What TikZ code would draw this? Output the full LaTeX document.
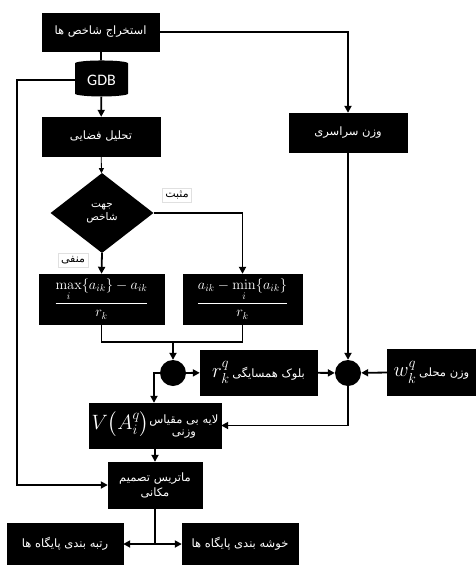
\documentclass[tikz,border=0pt]{standalone}
\usepackage{amsmath}
\usepackage[no-math]{fontspec}
\usepackage{tikz}
\usetikzlibrary{shapes.geometric, arrows.meta, positioning, calc}
\setmainfont{Carlito}
\newfontfamily\fafont[Script=Arabic]{DejaVu Sans}
\TeXXeTstate=1
\newcommand{\fa}[1]{{\fafont\beginR #1\endR}}

\begin{document}
\begin{tikzpicture}[
    x=1pt, y=-1pt,
    box/.style={draw, fill=black, text=white, minimum width=#1, minimum height=39pt, inner sep=2pt, align=center, font=\fontsize{11.5}{15}\selectfont},
    box/.default=117pt,
    dot/.style={circle, fill=black, minimum size=26pt, inner sep=0pt},
    tag/.style={draw=black!12, fill=white, inner sep=3pt, font=\fontsize{11}{12}\selectfont},
    arrow/.style={-{Triangle[length=7pt, width=7pt]}, line width=1.8pt},
    link/.style={line width=1.8pt}
]
    \useasboundingbox (0,0) rectangle (476,565);

    \node[box, minimum height=38pt] (extract) at (100.5,32) {\fa{استخراج شاخص ها}};
    \node[cylinder, shape border rotate=90, aspect=0.2, fill=black, text=white, minimum width=53pt, minimum height=36pt, inner sep=0pt, font=\fontsize{16}{16}\selectfont] (gdb) at (101.5,80) {GDB};
    \node[box=118pt] (spatial) at (101,136.5) {\fa{تحلیل فضایی}};
    \node[diamond, fill=black, text=white, minimum width=103pt, minimum height=80pt, inner sep=0pt, align=center, font=\fontsize{10.5}{13}\selectfont] (dir) at (102,213) {\fa{جهت}\\\fa{شاخص}};
    \node[box=125pt, minimum height=50pt, inner sep=0pt, font=\Large] (neg) at (101.5,299) {$\dfrac{\max\limits_{\lower1.5pt\hbox{$\scriptstyle i$}}\{a_{ik}\}-a_{ik}}{r_k}$};
    \node[box=119pt, minimum height=50pt, inner sep=0pt, font=\Large] (pos) at (242.5,299) {$\dfrac{a_{ik}-\min\limits_{\lower1.5pt\hbox{$\scriptstyle i$}}\{a_{ik}\}}{r_k}$};
    \node[tag] (postag) at (177,195) {\fa{مثبت}};
    \node[tag] (negtag) at (73,260) {\fa{منفی}};

    \node[box=118pt] (global) at (348,132.5) {\fa{وزن سراسری}};

    \node[dot] (sum1) at (173,373) {};
    \node[box, minimum height=45pt] (neigh) at (258.5,372.5) {{\huge$r_k^q$}\ \fa{بلوک همسایگی}};
    \node[dot] (sum2) at (348,373) {};
    \node[box=89pt, minimum height=46pt] (local) at (431.5,372) {{\huge$w_k^q$}\ \fa{وزن محلی}};

    \node[box=132pt, minimum height=45pt, inner sep=0pt] (layer) at (155,425.5) {{\huge$V\big(A_i^q\big)$}\begin{tabular}{@{}c@{}}\fa{لایه بی مقیاس}\\[-3pt]\fa{وزنی}\end{tabular}};
    \node[box=94pt, minimum height=46pt] (matrix) at (155,485) {\fa{ماتریس تصمیم}\\\fa{مکانی}};
    \node[box=116pt, minimum height=42pt] (rank) at (65,544) {\fa{رتبه بندی پایگاه ها}};
    \node[box=116pt, minimum height=42pt] (cluster) at (240,544) {\fa{خوشه بندی پایگاه ها}};

    \coordinate (join) at (173,342);
    \coordinate (split) at (matrix.south |- rank.east);

    \draw[link] (extract) -- (gdb);
    \draw[arrow] (extract.east) -| (global.north);
    \draw[arrow] (gdb) -- (spatial);
    \draw[-{Triangle[length=5pt, width=5pt]}, line width=0.8pt] (spatial) -- (dir);
    \draw[arrow] (dir.east) -| (pos.north);
    \draw[arrow] (dir.south) -- (neg.north);
    \draw[link] (neg.south) |- (join) -| (pos.south);
    \draw[arrow] (join) -- (sum1.north);
    \draw[arrow] (sum1) -- (neigh);
    \draw[arrow] (neigh) -- (sum2);
    \draw[arrow] (local) -- (sum2);
    \draw[arrow] (global) -- (sum2);
    \draw[arrow] (sum1.west) -| (layer.north -| 154,0);
    \draw[arrow] (sum2.south) |- (layer.east);
    \draw[arrow] (gdb.west) -| (17,485) -- (matrix.west);
    \draw[arrow] (layer) -- (matrix);
    \draw[link] (matrix) -- (split);
    \draw[arrow] (split) -- (rank.east);
    \draw[arrow] (split) -- (cluster.west);
\end{tikzpicture}
\end{document}
